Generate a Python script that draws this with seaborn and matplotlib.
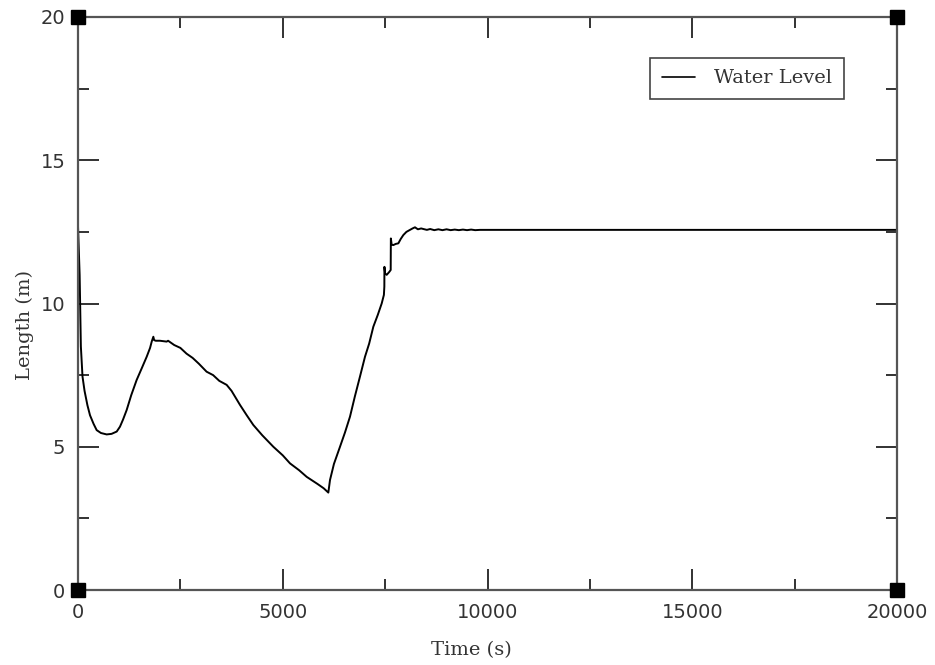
import numpy as np
import pandas as pd
import matplotlib
matplotlib.use("Agg")
import matplotlib.pyplot as plt
from matplotlib.ticker import MultipleLocator
import seaborn as sns

# Data
time_s = [0, 40, 70, 110, 160, 230, 293, 380, 456, 560, 700, 820, 945, 1025,
          1100, 1188, 1300, 1432, 1560, 1677, 1760, 1800, 1840, 1860, 1900,
          2000, 2165, 2200, 2350, 2500, 2650, 2800, 2950, 3140, 3300, 3450,
          3630, 3750, 3956, 4120, 4281, 4500, 4770, 5000, 5177, 5400, 5584,
          5850, 6000, 6113, 6154, 6250, 6398, 6520, 6642, 6760, 6886, 7008,
          7110, 7212, 7320, 7416, 7470, 7481, 7483, 7500, 7538, 7600, 7636,
          7640, 7660, 7701, 7760, 7823, 7880, 7945, 8020, 8107, 8170, 8229,
          8300, 8380, 8433, 8520, 8600, 8700, 8800, 8900, 9000, 9100, 9200,
          9300, 9400, 9500, 9600, 9700, 9817, 10000, 12000, 15000, 17500, 20000]
water_level = [12.7, 11.0, 8.5, 7.45, 6.95, 6.45, 6.10, 5.80, 5.58, 5.48, 5.43,
               5.45, 5.53, 5.70, 5.95, 6.28, 6.80, 7.33, 7.75, 8.14, 8.45,
               8.67, 8.84, 8.72, 8.70, 8.70, 8.67, 8.70, 8.55, 8.45, 8.25,
               8.10, 7.90, 7.62, 7.50, 7.30, 7.16, 6.95, 6.46, 6.10, 5.76,
               5.40, 5.00, 4.70, 4.42, 4.18, 3.95, 3.70, 3.55, 3.40, 3.84,
               4.40, 5.00, 5.50, 6.05, 6.75, 7.45, 8.14, 8.60, 9.19, 9.60,
               10.00, 10.30, 10.59, 11.28, 11.05, 11.00, 11.10, 11.17, 12.27,
               12.05, 12.04, 12.08, 12.10, 12.25, 12.39, 12.50, 12.57, 12.62,
               12.66, 12.59, 12.62, 12.60, 12.57, 12.60, 12.56, 12.59, 12.56,
               12.59, 12.56, 12.58, 12.56, 12.58, 12.56, 12.58, 12.56, 12.57,
               12.57, 12.57, 12.57, 12.57, 12.57]

x_ticks = [0, 5000, 10000, 15000, 20000]
y_ticks = [0, 5, 10, 15, 20]
series_name = "Water Level"

df = pd.DataFrame({"Time (s)": time_s, "Length (m)": water_level,
                   "series": series_name})

sns.set_theme(style="ticks")
plt.rcParams["font.family"] = ["DejaVu Sans"]

fig = plt.figure(figsize=(9.35, 6.65), dpi=100)
ax = fig.add_axes([78 / 935, 1 - 590 / 665, 819 / 935, 573 / 665])

sns.lineplot(data=df, x="Time (s)", y="Length (m)", hue="series",
             palette=["black"], linewidth=1.4, ax=ax, estimator=None,
             sort=False)

ax.set_xlim(0, 20000)
ax.set_ylim(0, 20)
ax.set_xticks(x_ticks)
ax.set_yticks(y_ticks)
ax.set_xticklabels([str(v) for v in x_ticks])
ax.set_yticklabels([str(v) for v in y_ticks])
ax.xaxis.set_minor_locator(MultipleLocator(2500))
ax.yaxis.set_minor_locator(MultipleLocator(2.5))

spine_col = "#555555"
for s in ax.spines.values():
    s.set_color(spine_col)
    s.set_linewidth(1.6)
    s.set_visible(True)

ax.tick_params(which="major", direction="in", length=15, width=1.3,
               top=True, right=True, colors="#222222", labelcolor="#333333",
               labelsize=14, pad=9)
ax.tick_params(which="minor", direction="in", length=8, width=1.3,
               top=True, right=True, colors="#222222")

ax.set_xlabel("Time (s)", family=["DejaVu Serif"], fontsize=14,
              color="#333333")
ax.set_ylabel("Length (m)", family=["DejaVu Serif"], fontsize=14,
              color="#333333")
ax.xaxis.set_label_coords(0.48, -0.09)
ax.yaxis.set_label_coords(-0.054, 0.462)

# black squares at the corners of the frame
ax.plot([0, 1, 0, 1], [0, 0, 1, 1], linestyle="none", marker="s",
        markersize=10, color="black", transform=ax.transAxes,
        clip_on=False, zorder=5)

leg = ax.legend(loc="upper right", bbox_to_anchor=(0.935, 0.929),
                borderaxespad=0, frameon=True, fancybox=False, framealpha=1,
                edgecolor="#444444", handlelength=1.7, handletextpad=1.0,
                borderpad=0.6, prop={"family": "DejaVu Serif", "size": 14})
leg.get_frame().set_linewidth(1.2)
for t in leg.get_texts():
    t.set_color("#333333")
for h in leg.get_lines():
    h.set_linewidth(1.2)

fig.savefig("out.png", dpi=100, facecolor="white")
